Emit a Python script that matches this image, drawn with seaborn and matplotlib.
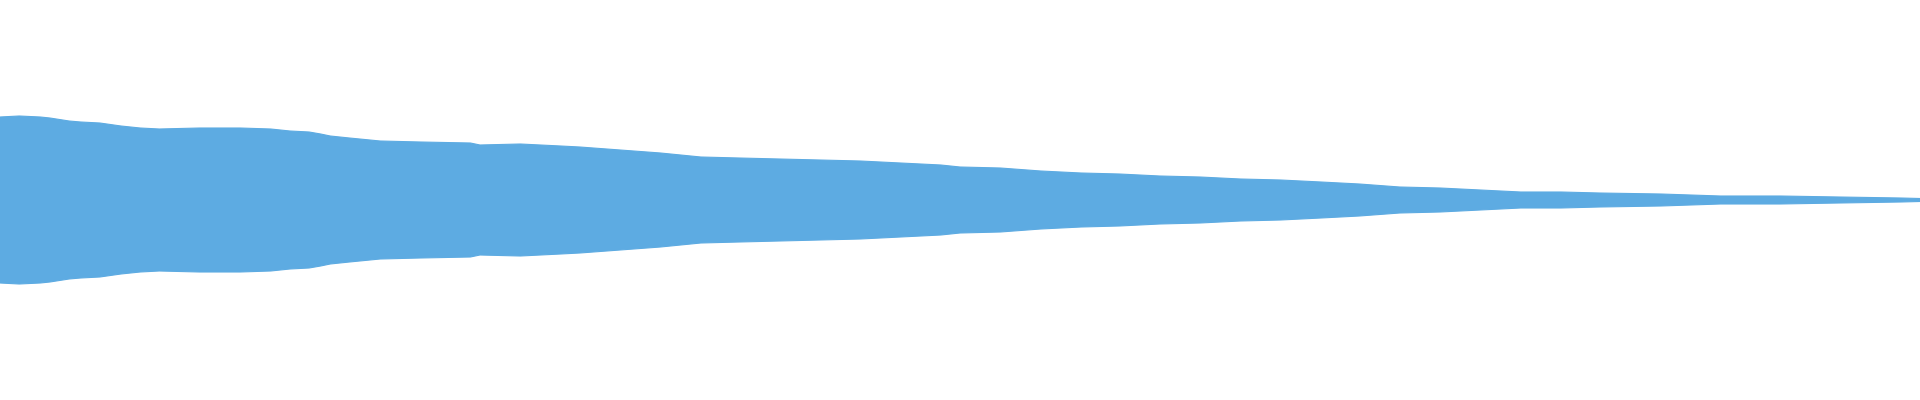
import numpy as np
import pandas as pd
import matplotlib
matplotlib.use('Agg')
import matplotlib.pyplot as plt
import seaborn as sns

# waveform envelope
# t: position in the clip (0 = start, 1 = end), peak: peak amplitude (full scale = 1)
t = [0.000, 0.010, 0.021, 0.026, 0.036, 0.042, 0.052, 0.063, 0.073, 0.083,
     0.104, 0.125, 0.141, 0.151, 0.161, 0.167, 0.172, 0.182, 0.198, 0.219,
     0.245, 0.250, 0.271, 0.292, 0.302, 0.323, 0.344, 0.365, 0.385, 0.406,
     0.427, 0.448, 0.469, 0.490, 0.500, 0.521, 0.542, 0.563, 0.583, 0.604,
     0.625, 0.646, 0.667, 0.688, 0.708, 0.729, 0.750, 0.771, 0.792, 0.813,
     0.833, 0.865, 0.896, 0.927, 0.958, 0.990, 1.000]
peak = [0.415, 0.420, 0.415, 0.410, 0.395, 0.390, 0.385, 0.370, 0.360, 0.355,
        0.360, 0.360, 0.355, 0.345, 0.340, 0.330, 0.320, 0.310, 0.295, 0.290,
        0.285, 0.275, 0.280, 0.270, 0.265, 0.250, 0.235, 0.215, 0.210, 0.205,
        0.200, 0.195, 0.185, 0.175, 0.165, 0.160, 0.145, 0.135, 0.130, 0.120,
        0.115, 0.105, 0.100, 0.090, 0.080, 0.065, 0.060, 0.050, 0.040, 0.040,
        0.035, 0.030, 0.020, 0.020, 0.015, 0.010, 0.0075]

wave_color = '#5dabe2'

df = pd.DataFrame({'t': t, 'top': peak, 'bottom': [-p for p in peak]})

sns.set_style('white')
fig = plt.figure(figsize=(19.2, 4), dpi=100)
ax = fig.add_axes([0, 0, 1, 1])

ax.fill_between(df['t'], df['bottom'], df['top'], color=wave_color, linewidth=0)
sns.lineplot(data=df, x='t', y='top', color=wave_color, linewidth=0.8, ax=ax)
sns.lineplot(data=df, x='t', y='bottom', color=wave_color, linewidth=0.8, ax=ax)

ax.set_xlim(0, 1)
ax.set_ylim(-1, 1)
ax.axis('off')

fig.savefig('out.png', dpi=100, facecolor='white')
